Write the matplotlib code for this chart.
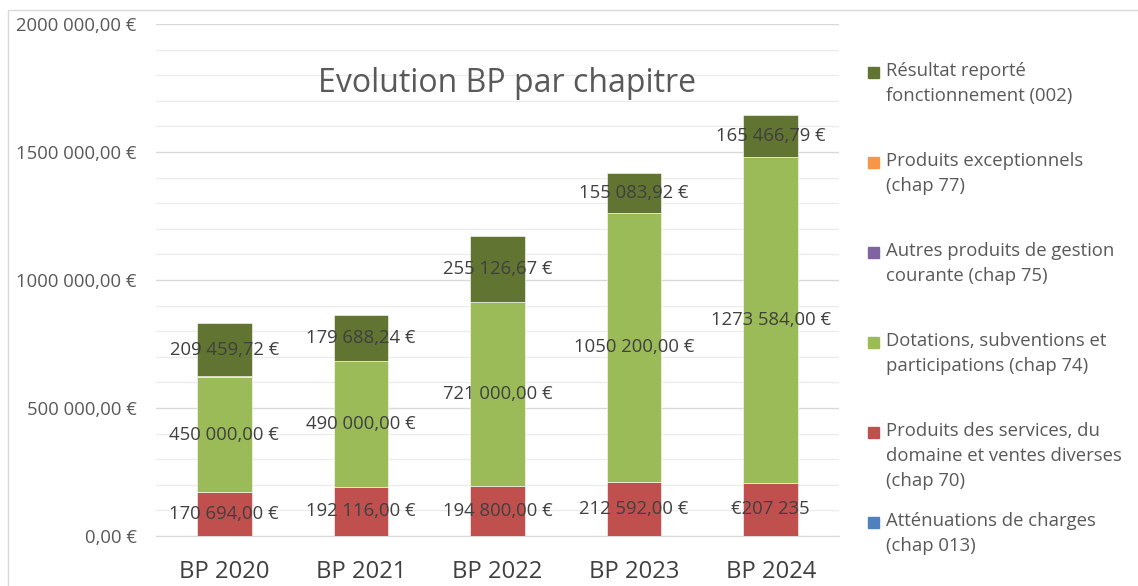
import numpy as np
import matplotlib.pyplot as plt
from matplotlib.patches import Rectangle
from matplotlib.ticker import MultipleLocator, FuncFormatter

plt.rcParams['font.family'] = ['Open Sans', 'DejaVu Sans']

years = ["BP 2020", "BP 2021", "BP 2022", "BP 2023", "BP 2024"]

# series, bottom to top of the stack
attenuations = [0, 0, 0, 0, 0]
services = [170694.00, 192116.00, 194800.00, 212592.00, 207235.00]
dotations = [450000.00, 490000.00, 721000.00, 1050200.00, 1273584.00]
autres = [0, 0, 0, 0, 0]
exceptionnels = [2500, 0, 0, 0, 0]
resultat = [209459.72, 179688.24, 255126.67, 155083.92, 165466.79]

services_labels = ["170 694,00 €", "192 116,00 €", "194 800,00 €", "212 592,00 €", "€207 235"]
dotations_labels = ["450 000,00 €", "490 000,00 €", "721 000,00 €", "1050 200,00 €", "1273 584,00 €"]
resultat_labels = ["209 459,72 €", "179 688,24 €", "255 126,67 €", "155 083,92 €", "165 466,79 €"]

legend_names = [
    "Résultat reporté\nfonctionnement (002)",
    "Produits exceptionnels\n(chap 77)",
    "Autres produits de gestion\ncourante (chap 75)",
    "Dotations, subventions et\nparticipations (chap 74)",
    "Produits des services, du\ndomaine et ventes diverses\n(chap 70)",
    "Atténuations de charges\n(chap 013)",
]

c_blue = "#4f81bd"
c_red = "#c0504d"
c_green = "#9bbb59"
c_purple = "#8064a2"
c_orange = "#f79646"
c_dark = "#617431"
text_col = "#595959"
lab_col = "#404040"

W, H = 1138, 586
fig = plt.figure(figsize=(W / 100, H / 100), dpi=100)
ax = fig.add_axes([156 / W, 1 - 536 / H, 683 / W, 512 / H])

x = np.arange(len(years))
series = [
    (attenuations, c_blue),
    (services, c_red),
    (dotations, c_green),
    (autres, c_purple),
    (exceptionnels, c_orange),
    (resultat, c_dark),
]
bottom = np.zeros(len(years))
bottoms = []
for vals, col in series:
    vals = np.array(vals, dtype=float)
    ax.bar(x, vals, 0.4, bottom=bottom, color=col, edgecolor="white",
           linewidth=0.4, zorder=3)
    bottoms.append(bottom.copy())
    bottom = bottom + vals

# data labels on the three visible series
for idx, labels in [(1, services_labels), (2, dotations_labels), (5, resultat_labels)]:
    vals = np.array(series[idx][0], dtype=float)
    for i in range(len(years)):
        ax.text(x[i], bottoms[idx][i] + vals[i] / 2, labels[i], ha="center",
                va="center", fontsize=13.3, color=lab_col, zorder=4)

ax.set_xlim(-0.5, len(years) - 0.5)
ax.set_ylim(0, 2000000)
ax.yaxis.set_major_locator(MultipleLocator(500000))
ax.yaxis.set_minor_locator(MultipleLocator(100000))
ax.yaxis.set_major_formatter(FuncFormatter(
    lambda v, p: "{:,.2f}".format(v).replace(",", " ").replace(".", ",").replace(" ", "", 1 if v >= 1000000 else 0) + " €"))
ax.grid(axis="y", which="major", color="#d9d9d9", linewidth=1, zorder=0)
ax.grid(axis="y", which="minor", color="#ececec", linewidth=1, zorder=0)
ax.set_xticks(x)
ax.set_xticklabels(years, fontsize=17.2, color=lab_col)
ax.tick_params(axis="x", length=0, pad=17)
ax.tick_params(axis="y", which="both", length=0, pad=14, labelsize=13.3, labelcolor=text_col)
for s in ["top", "right", "left"]:
    ax.spines[s].set_visible(False)
ax.spines["bottom"].set_color("#d9d9d9")

fig.text(507 / W, 1 - 83 / H, "Evolution BP par chapitre", ha="center", va="center",
         fontsize=23, color=text_col)

# legend, one 90 px slot per entry
leg_colors = [c_dark, c_orange, c_purple, c_green, c_red, c_blue]
for i, (name, col) in enumerate(zip(legend_names, leg_colors)):
    yc = 72 + 90 * i
    fig.patches.append(Rectangle((868 / W, 1 - (yc + 6) / H), 11 / W, 11 / H,
                                 transform=fig.transFigure, color=col))
    fig.text(886 / W, 1 - (yc - 10) / H, name, ha="left", va="top", fontsize=13.3,
             color=text_col, linespacing=1.5)

# chart border
fig.patches.append(Rectangle((8 / W, -0.1), 1.2, 1 - 10 / H + 0.1, transform=fig.transFigure,
                             fill=False, edgecolor="#d9d9d9", linewidth=1))

fig.savefig("out.png", dpi=100)
